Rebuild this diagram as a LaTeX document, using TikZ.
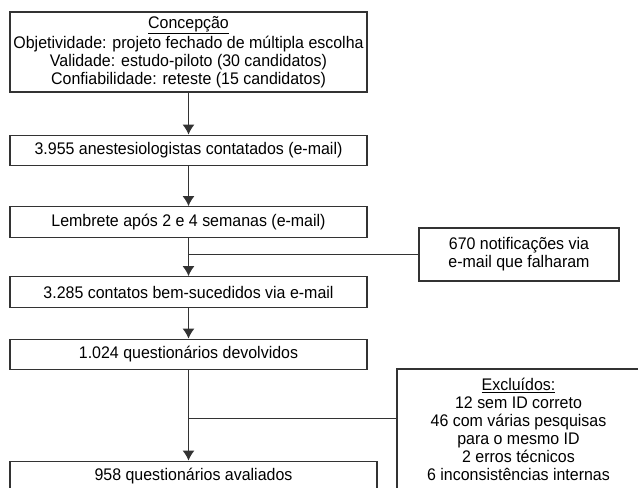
\documentclass[tikz,border=0pt]{standalone}
\usepackage{fontspec}
\setmainfont{Liberation Sans}[FakeStretch=0.95]
\usetikzlibrary{arrows.meta}
\begin{document}
\begin{tikzpicture}[x=0.75pt,y=-0.75pt]
	\tikzstyle{etapa} = [draw=black!80, line width=0.9pt, rectangle, minimum width=267.75pt, minimum height=23pt, inner sep=0pt, align=center, font={\fontsize{12.6}{13.6}\selectfont}]
	\tikzstyle{seta} = [draw=black!80, line width=0.9pt, -{Latex[length=7.5pt,width=9pt]}]
	\tikzstyle{ramo} = [draw=black!80, line width=0.9pt]
	\useasboundingbox (0,0) rectangle (638,487);
	\node[etapa, minimum height=60pt] (concepcao) at (188.5,52) {\underline{Concepção}\\Objetividade: projeto fechado de múltipla escolha\\Validade: estudo-piloto (30 candidatos)\\Confiabilidade: reteste (15 candidatos)};
	\node[etapa] (contatados) at (188.5,150.5) {3.955 anestesiologistas contatados (e-mail)};
	\node[etapa] (lembrete) at (188.5,222) {Lembrete após 2 e 4 semanas (e-mail)};
	\node[etapa] (sucedidos) at (188.5,292) {3.285 contatos bem-sucedidos via e-mail};
	\node[etapa] (devolvidos) at (188.5,354.5) {1.024 questionários devolvidos};
	\node[etapa, minimum width=275.25pt] (avaliados) at (193.5,476.5) {958 questionários avaliados};
	\node[etapa, minimum width=150pt, minimum height=39.75pt] (falhas) at (519,254.5) {670 notificações via\\e-mail que falharam};
	\node[etapa, minimum width=182.25pt, minimum height=90.75pt] (excluidos) at (518.5,429.5) {\underline{Excluídos:}\\12 sem ID correto\\46 com várias pesquisas\\para o mesmo ID\\2 erros técnicos\\6 inconsistências internas};
	\draw[seta] (concepcao) -- (contatados);
	\draw[seta] (contatados) -- (lembrete);
	\draw[seta] (lembrete) -- (sucedidos);
	\draw[ramo] (falhas.west) -- (falhas.west -| lembrete.south);
	\draw[seta] (sucedidos) -- (devolvidos);
	\draw[seta] (devolvidos.south) -- (devolvidos.south |- avaliados.north);
	\draw[ramo] ([yshift=-37.5pt]excluidos.north west) -- ([yshift=-37.5pt]excluidos.north west -| devolvidos.south);
\end{tikzpicture}
\end{document}
